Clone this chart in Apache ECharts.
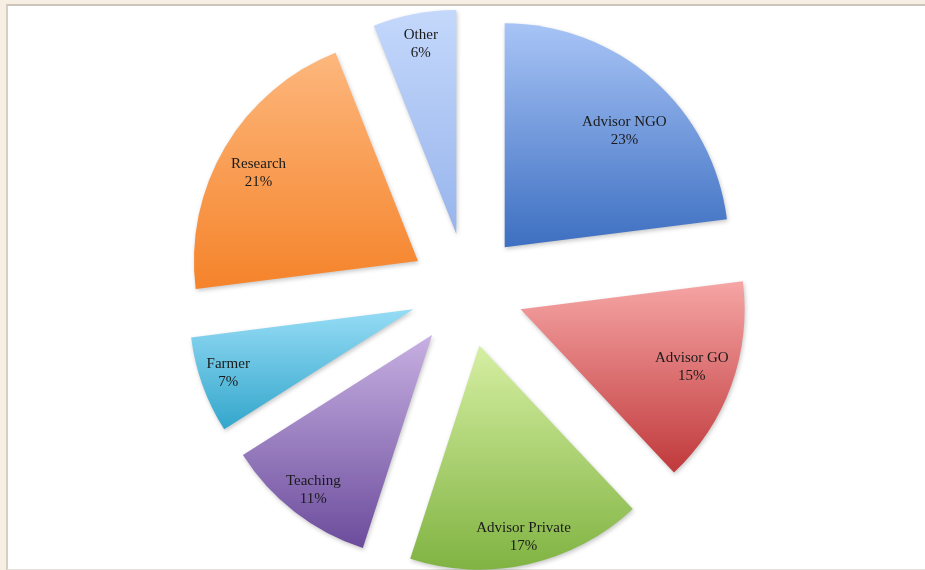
<!DOCTYPE html>
<html>
<head>
<meta charset="utf-8">
<script src="https://cdn.jsdelivr.net/npm/echarts@6/dist/echarts.min.js"></script>
<style>
  html, body { margin: 0; padding: 0; width: 925px; height: 570px; overflow: hidden; background: #f7efe3; }
  #panel { position: absolute; left: 6px; top: 4px; width: 925px; height: 563px; background: #ffffff;
           border-top: 2px solid #cdc5ba; border-left: 2px solid #d8cfc4; border-bottom: 1px solid #e4e1dd; }
  #chart { position: absolute; left: 0; top: 0; width: 925px; height: 570px; }
</style>
</head>
<body>
<div id="panel"></div>
<div id="chart"></div>
<script>
// Data
var categories = ['Advisor NGO', 'Advisor GO', 'Advisor Private', 'Teaching', 'Farmer', 'Research', 'Other'];
var shares = [23, 15, 17, 11, 7, 21, 6];

// Styles
var topColors = ['#a8c4f6', '#f6a5a5', '#d6efa2', '#c7b0e2', '#96dcf5', '#fdb77d', '#c4d8fb'];
var bottomColors = ['#3d6fc1', '#c0393b', '#80b342', '#6b4c9c', '#33a6cc', '#f5832a', '#97b4ec'];
var labelNudgeX = [-2, -2, 4, -6, -12, -1, -1];
var labelNudgeY = [22, -5, 12, 10, 1, 6, -9];

var CENTER = [467, 290];
var RADIUS = 224;
var OFFSET = 57;

function grad(i) {
  return new echarts.graphic.LinearGradient(0, 0, 0, 1, [
    { offset: 0, color: topColors[i] },
    { offset: 1, color: bottomColors[i] }
  ]);
}

var sliceData = categories.map(function (name, i) {
  return { name: name, value: shares[i], selected: true, itemStyle: { color: grad(i) } };
});
var labelData = categories.map(function (name, i) {
  return { name: name, value: shares[i], selected: true };
});

var chart = echarts.init(document.getElementById('chart'), null, { renderer: 'canvas' });
chart.setOption({
  animation: false,
  backgroundColor: 'transparent',
  series: [
    {
      type: 'pie',
      center: CENTER,
      radius: [0, RADIUS],
      startAngle: 90,
      clockwise: true,
      selectedMode: 'multiple',
      selectedOffset: OFFSET,
      silent: true,
      emphasis: { disabled: true },
      itemStyle: {
        borderWidth: 0,
        shadowBlur: 4,
        shadowColor: 'rgba(0,0,0,0.22)',
        shadowOffsetX: 1,
        shadowOffsetY: 2
      },
      label: { show: false },
      labelLine: { show: false },
      data: sliceData
    },
    {
      type: 'pie',
      center: CENTER,
      radius: [138, RADIUS],
      startAngle: 90,
      clockwise: true,
      selectedMode: 'multiple',
      selectedOffset: OFFSET,
      silent: true,
      emphasis: { disabled: true },
      itemStyle: { color: 'rgba(0,0,0,0)', borderWidth: 0 },
      label: {
        show: true,
        position: 'inside',
        formatter: '{b}\n{d}%',
        fontFamily: 'Liberation Serif',
        fontSize: 15,
        lineHeight: 18,
        color: '#1a1a1a',
        align: 'center'
      },
      labelLayout: function (params) {
        return { dx: labelNudgeX[params.dataIndex], dy: labelNudgeY[params.dataIndex] };
      },
      labelLine: { show: false },
      data: labelData
    }
  ]
});
</script>
</body>
</html>
